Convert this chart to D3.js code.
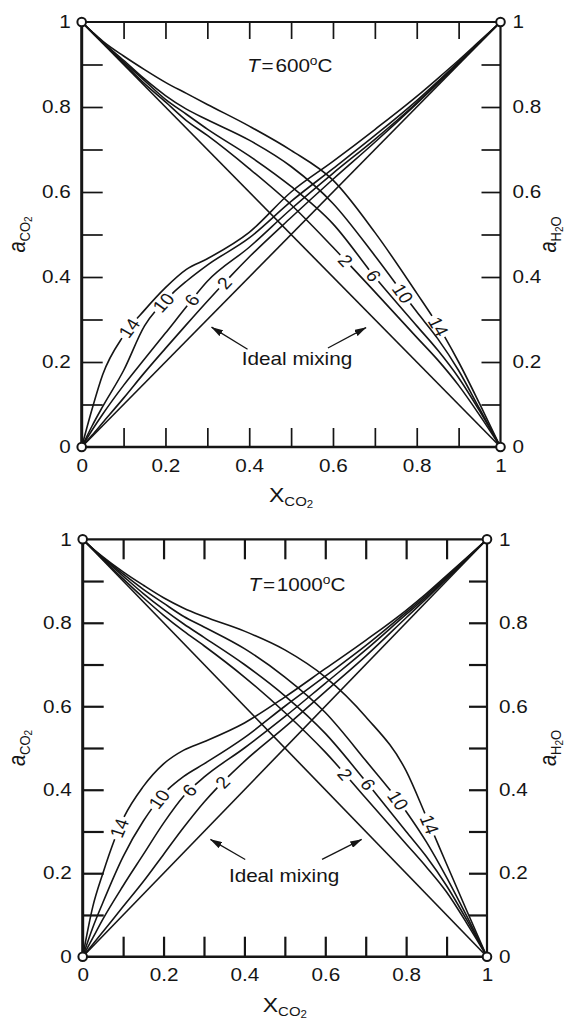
<!DOCTYPE html>
<html>
<head>
<meta charset="utf-8">
<script src="https://cdn.jsdelivr.net/npm/d3@7"></script>
<style>
  html, body { margin: 0; padding: 0; background: #fff; }
  svg { display: block; }
  text { font-family: "Liberation Sans", Arial, Helvetica, sans-serif; fill: #151515; }
</style>
</head>
<body>
<svg id="chart" width="567" height="1022"></svg>
<script>
// Mole fraction of CO2 at which every activity curve is sampled
const xCO2 = [0, 0.025, 0.05, 0.1, 0.15, 0.2, 0.25, 0.3, 0.4, 0.5, 0.6, 0.7, 0.8, 0.85, 0.9, 0.95, 1];
// Pressure (kbar) of each non-ideal curve
const pressures = [2, 6, 10, 14];

// T = 600 °C : activity of CO2
const aCO2_600_2  = [0, 0.028, 0.057, 0.115, 0.175, 0.232, 0.288, 0.343, 0.447, 0.540, 0.630, 0.717, 0.808, 0.855, 0.903, 0.951, 1];
const aCO2_600_6  = [0, 0.040, 0.077, 0.145, 0.207, 0.268, 0.330, 0.390, 0.470, 0.560, 0.644, 0.724, 0.810, 0.857, 0.904, 0.952, 1];
const aCO2_600_10 = [0, 0.050, 0.095, 0.180, 0.285, 0.345, 0.390, 0.428, 0.492, 0.578, 0.655, 0.733, 0.815, 0.860, 0.906, 0.953, 1];
const aCO2_600_14 = [0, 0.090, 0.170, 0.262, 0.322, 0.375, 0.418, 0.443, 0.505, 0.600, 0.672, 0.747, 0.825, 0.867, 0.910, 0.955, 1];
// T = 600 °C : activity of H2O
const aH2O_600_2  = [1, 0.975, 0.951, 0.903, 0.855, 0.812, 0.768, 0.733, 0.655, 0.570, 0.470, 0.365, 0.258, 0.205, 0.145, 0.075, 0];
const aH2O_600_6  = [1, 0.976, 0.952, 0.906, 0.862, 0.818, 0.783, 0.748, 0.685, 0.613, 0.525, 0.400, 0.285, 0.228, 0.163, 0.085, 0];
const aH2O_600_10 = [1, 0.976, 0.953, 0.910, 0.866, 0.827, 0.795, 0.770, 0.722, 0.660, 0.573, 0.450, 0.318, 0.255, 0.180, 0.090, 0];
const aH2O_600_14 = [1, 0.977, 0.955, 0.920, 0.888, 0.858, 0.832, 0.806, 0.755, 0.698, 0.628, 0.505, 0.362, 0.287, 0.200, 0.102, 0];

// T = 1000 °C : activity of CO2
const aCO2_1000_2  = [0, 0.030, 0.060, 0.120, 0.180, 0.245, 0.310, 0.370, 0.468, 0.550, 0.635, 0.720, 0.812, 0.858, 0.905, 0.952, 1];
const aCO2_1000_6  = [0, 0.045, 0.090, 0.170, 0.245, 0.320, 0.385, 0.430, 0.500, 0.575, 0.655, 0.735, 0.820, 0.862, 0.907, 0.953, 1];
const aCO2_1000_10 = [0, 0.070, 0.130, 0.240, 0.325, 0.390, 0.432, 0.462, 0.525, 0.600, 0.672, 0.745, 0.825, 0.866, 0.910, 0.955, 1];
const aCO2_1000_14 = [0, 0.120, 0.200, 0.330, 0.408, 0.462, 0.495, 0.515, 0.560, 0.622, 0.690, 0.758, 0.830, 0.870, 0.913, 0.956, 1];
// T = 1000 °C : activity of H2O
const aH2O_1000_2  = [1, 0.976, 0.952, 0.905, 0.860, 0.818, 0.780, 0.745, 0.670, 0.585, 0.490, 0.380, 0.270, 0.215, 0.155, 0.080, 0];
const aH2O_1000_6  = [1, 0.977, 0.955, 0.912, 0.870, 0.832, 0.797, 0.765, 0.700, 0.625, 0.535, 0.420, 0.300, 0.240, 0.170, 0.088, 0];
const aH2O_1000_10 = [1, 0.977, 0.956, 0.917, 0.880, 0.847, 0.815, 0.790, 0.738, 0.670, 0.585, 0.470, 0.348, 0.275, 0.190, 0.097, 0];
const aH2O_1000_14 = [1, 0.978, 0.958, 0.922, 0.890, 0.860, 0.835, 0.815, 0.780, 0.735, 0.670, 0.575, 0.445, 0.335, 0.222, 0.110, 0];

// Axis ticks
const majorTicks = [0, 0.2, 0.4, 0.6, 0.8, 1];
const tickLabels = ["0", "0.2", "0.4", "0.6", "0.8", "1"];
const minorTicks = [0.1, 0.2, 0.3, 0.4, 0.5, 0.6, 0.7, 0.8, 0.9];

// Horizontal widening applied to all lettering
const SX = 1.15;

const panels = [
  {
    temp: "600", left: 81.7, top: 22, width: 418.8, height: 425,
    co2: [aCO2_600_2, aCO2_600_6, aCO2_600_10, aCO2_600_14],
    h2o: [aH2O_600_2, aH2O_600_6, aH2O_600_10, aH2O_600_14],
    labelCO2: [0.34, 0.263, 0.195, 0.113],
    labelH2O: [0.63, 0.697, 0.767, 0.852],
    titleAt: [0.497, 0.883], idealAt: [0.514, 0.193],
    arrows: [[[0.396, 0.230], [0.310, 0.282]], [[0.588, 0.233], [0.679, 0.281]]],
    tickLen: { top: 17, bottom: 19, left: 21, right: 19 }, tickWidth: 1.7
  },
  {
    temp: "1000", left: 82.7, top: 539.3, width: 404.3, height: 417.4,
    co2: [aCO2_1000_2, aCO2_1000_6, aCO2_1000_10, aCO2_1000_14],
    h2o: [aH2O_1000_2, aH2O_1000_6, aH2O_1000_10, aH2O_1000_14],
    labelCO2: [0.346, 0.264, 0.189, 0.09],
    labelH2O: [0.649, 0.706, 0.78, 0.858],
    titleAt: [0.53, 0.877], idealAt: [0.498, 0.18],
    arrows: [[[0.402, 0.233], [0.316, 0.281]], [[0.592, 0.233], [0.690, 0.281]]],
    tickLen: { top: 20, bottom: 20, left: 21, right: 18 }, tickWidth: 2.2
  }
];

const svg = d3.select("#chart");
const defs = svg.append("defs");
defs.append("marker")
  .attr("id", "arrowhead")
  .attr("viewBox", "0 0 12 7")
  .attr("refX", 11.5).attr("refY", 3.5)
  .attr("markerWidth", 12).attr("markerHeight", 7)
  .attr("markerUnits", "userSpaceOnUse")
  .attr("orient", "auto")
  .append("path").attr("d", "M0,0 L12,3.5 L0,7 Z").attr("fill", "#151515");

function stretchText(sel) {
  sel.each(function () {
    const t = d3.select(this);
    const x = +t.attr("x") || 0;
    const y = +t.attr("y") || 0;
    t.attr("x", 0).attr("y", 0).attr("transform", `translate(${x},${y}) scale(${SX},1)`);
  });
}

function labelCurve(g, path, xTarget, text) {
  const node = path.node();
  const total = node.getTotalLength();
  let lo = 0, hi = total;
  for (let i = 0; i < 40; i++) {
    const mid = (lo + hi) / 2;
    if (node.getPointAtLength(mid).x < xTarget) lo = mid; else hi = mid;
  }
  const L = (lo + hi) / 2;
  const p = node.getPointAtLength(L);
  const a = node.getPointAtLength(Math.max(0, L - 4));
  const b = node.getPointAtLength(Math.min(total, L + 4));
  const ang = Math.atan2(b.y - a.y, (b.x - a.x) / SX);
  const t = g.append("text")
    .attr("transform", `translate(${p.x},${p.y}) scale(${SX},1) rotate(${ang * 180 / Math.PI})`)
    .attr("text-anchor", "middle")
    .attr("dy", "0.36em")
    .style("font-size", "17px")
    .text(text);
  const w = t.node().getComputedTextLength();
  const gap = w * Math.hypot(Math.cos(ang) * SX, Math.sin(ang)) + 5;
  path.attr("stroke-dasharray", `${Math.max(0, L - gap / 2)} ${gap} ${total}`);
}

function drawPanel(p) {
  const g = svg.append("g").attr("transform", `translate(${p.left},${p.top})`);
  const x = d3.scaleLinear().domain([0, 1]).range([0, p.width]);
  const y = d3.scaleLinear().domain([0, 1]).range([p.height, 0]);
  const line = d3.line().x(d => x(d[0])).y(d => y(d[1])).curve(d3.curveMonotoneX);

  const curves = g.append("g").attr("fill", "none").attr("stroke", "#151515")
    .attr("stroke-width", 1.6).attr("stroke-linejoin", "round");

  // ideal mixing lines
  curves.append("path").attr("d", line([[0, 0], [1, 1]]));
  curves.append("path").attr("d", line([[0, 1], [1, 0]]));

  // non-ideal activity curves with their pressure labels
  pressures.forEach((P, i) => {
    const pc = curves.append("path").attr("d", line(xCO2.map((xv, k) => [xv, p.co2[i][k]])));
    labelCurve(g, pc, x(p.labelCO2[i]), String(P));
    const ph = curves.append("path").attr("d", line(xCO2.map((xv, k) => [xv, p.h2o[i][k]])));
    labelCurve(g, ph, x(p.labelH2O[i]), String(P));
  });

  // minor tick marks on all four sides, pointing inwards
  const tickGroups = [
    g.append("g").call(d3.axisLeft(y).tickValues(minorTicks).tickSize(-p.tickLen.left).tickFormat("")),
    g.append("g").attr("transform", `translate(${p.width},0)`)
      .call(d3.axisRight(y).tickValues(minorTicks).tickSize(-p.tickLen.right).tickFormat("")),
    g.append("g").call(d3.axisTop(x).tickValues(minorTicks).tickSize(-p.tickLen.top).tickFormat("")),
    g.append("g").attr("transform", `translate(0,${p.height})`)
      .call(d3.axisBottom(x).tickValues(minorTicks).tickSize(-p.tickLen.bottom).tickFormat(""))
  ];
  tickGroups.forEach(tg => {
    tg.select(".domain").remove();
    tg.attr("color", "#151515").selectAll("line").attr("stroke-width", p.tickWidth);
  });

  // frame
  const frame = g.append("g").attr("stroke", "#151515").attr("stroke-linecap", "square");
  frame.append("line").attr("x1", 0).attr("y1", 0).attr("x2", 0).attr("y2", p.height).attr("stroke-width", 3);
  frame.append("line").attr("x1", 0).attr("y1", p.height).attr("x2", p.width).attr("y2", p.height).attr("stroke-width", 2.6);
  frame.append("line").attr("x1", p.width).attr("y1", 0).attr("x2", p.width).attr("y2", p.height).attr("stroke-width", 2.2);
  frame.append("line").attr("x1", 0).attr("y1", 0).attr("x2", p.width).attr("y2", 0).attr("stroke-width", 2.2);

  // tick labels
  const fmt = d => tickLabels[majorTicks.indexOf(d)];
  const labelAxes = [
    g.append("g").call(d3.axisLeft(y).tickValues(majorTicks).tickSize(0).tickPadding(11).tickFormat(fmt)),
    g.append("g").attr("transform", `translate(${p.width},0)`)
      .call(d3.axisRight(y).tickValues(majorTicks).tickSize(0).tickPadding(12).tickFormat(fmt)),
    g.append("g").attr("transform", `translate(0,${p.height})`)
      .call(d3.axisBottom(x).tickValues(majorTicks).tickSize(0).tickPadding(12).tickFormat(fmt))
  ];
  labelAxes.forEach(ag => {
    ag.select(".domain").remove();
    ag.attr("font-family", null).attr("font-size", null);
    ag.selectAll("text").style("font-size", "18px");
    stretchText(ag.selectAll("text"));
  });

  // corner circles
  [[0, 0], [0, 1], [1, 0], [1, 1]].forEach(c => {
    g.append("circle").attr("cx", x(c[0])).attr("cy", y(c[1])).attr("r", 4.3)
      .attr("fill", "#fff").attr("stroke", "#151515").attr("stroke-width", 2);
  });

  // temperature title
  const title = g.append("text")
    .attr("transform", `translate(${x(p.titleAt[0])},${y(p.titleAt[1])}) scale(${SX},1)`)
    .attr("text-anchor", "middle").style("font-size", "18px");
  title.append("tspan").style("font-style", "italic").text("T");
  title.append("tspan").attr("dx", 1.5).text("=");
  title.append("tspan").attr("dx", 1.5).text(p.temp);
  title.append("tspan").attr("dy", -7).style("font-size", "12px").text("o");
  title.append("tspan").attr("dy", 7).text("C");

  // ideal mixing annotation
  g.append("text")
    .attr("transform", `translate(${x(p.idealAt[0])},${y(p.idealAt[1])}) scale(${SX},1)`)
    .attr("text-anchor", "middle").style("font-size", "18px").text("Ideal mixing");
  p.arrows.forEach(ar => {
    g.append("line")
      .attr("x1", x(ar[0][0])).attr("y1", y(ar[0][1]))
      .attr("x2", x(ar[1][0])).attr("y2", y(ar[1][1]))
      .attr("stroke", "#151515").attr("stroke-width", 1.3)
      .attr("marker-end", "url(#arrowhead)");
  });

  // x-axis title
  const xt = g.append("text")
    .attr("transform", `translate(${x(0.5)},${p.height + 55}) scale(${SX},1)`)
    .attr("text-anchor", "middle").style("font-size", "20px");
  xt.append("tspan").text("X");
  xt.append("tspan").attr("dy", 4).style("font-size", "13px").text("CO");
  xt.append("tspan").attr("dy", 2).style("font-size", "10px").text("2");

  // left activity title
  const lt = svg.append("text")
    .attr("transform", `translate(25,${p.top + p.height / 2}) scale(${SX},1) rotate(-90)`)
    .attr("text-anchor", "middle").style("font-size", "20px");
  lt.append("tspan").style("font-style", "italic").text("a");
  lt.append("tspan").attr("dy", 4).style("font-size", "13px").text("CO");
  lt.append("tspan").attr("dy", 2).style("font-size", "10px").text("2");

  // right activity title
  const rt = svg.append("text")
    .attr("transform", `translate(556,${p.top + p.height / 2}) scale(${SX},1) rotate(-90)`)
    .attr("text-anchor", "middle").style("font-size", "20px");
  rt.append("tspan").style("font-style", "italic").text("a");
  rt.append("tspan").attr("dy", 4).style("font-size", "13px").text("H");
  rt.append("tspan").attr("dy", 2).style("font-size", "10px").text("2");
  rt.append("tspan").attr("dy", -2).style("font-size", "13px").text("O");
}

panels.forEach(drawPanel);
</script>
</body>
</html>
